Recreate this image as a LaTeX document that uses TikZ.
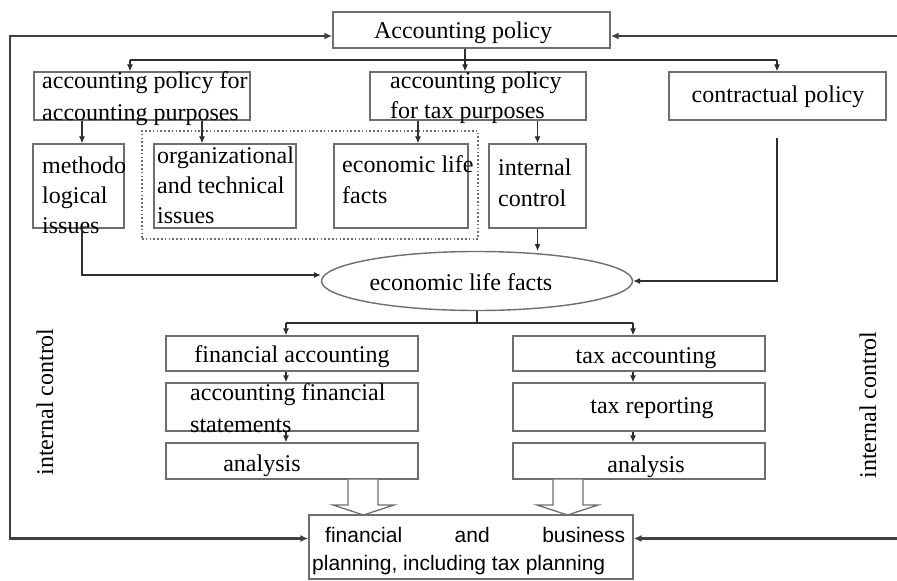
\documentclass[tikz,border=0pt]{standalone}
\usepackage{fontspec}
\setmainfont{Liberation Serif}
\newfontfamily\sansf{Liberation Sans}
\usetikzlibrary{arrows.meta,shapes.geometric}
\definecolor{boxc}{HTML}{6E6E6E}
\definecolor{linec}{HTML}{2E2E2E}
\definecolor{loopc}{HTML}{404040}
\tikzset{
  box/.style={draw=boxc, line width=1.4pt, inner sep=0pt, fill=none},
  txt/.style={inner sep=0pt, yshift=-2.5pt, font=\fontsize{24}{31}\selectfont, align=left},
  conn/.style={draw=linec, line width=1.1pt},
  arr/.style={conn, -{Latex[length=7pt,width=6pt]}},
  looparr/.style={draw=loopc, line width=2.6pt, {Latex[length=8pt,width=7pt]}-{Latex[length=8pt,width=7pt]}},
  blockarr/.style={draw=boxc, line width=1.3pt, fill=white, line join=miter}
}
\begin{document}
\begin{tikzpicture}[x=1pt,y=-1pt]
\useasboundingbox[fill=white] (0,0) rectangle (897,581);

% boxes
\node[box, minimum width=277pt, minimum height=36pt] (ap) at (471.5,30) {};
\node[box, minimum width=216pt, minimum height=48pt] (app) at (142,96) {};
\node[box, minimum width=216pt, minimum height=48pt] (atp) at (478,96) {};
\node[box, minimum width=217pt, minimum height=48pt] (cp) at (777.5,96) {};
\node[draw=boxc, line width=1.6pt, dash pattern=on 1.6pt off 2.2pt, inner sep=0pt, minimum width=336pt, minimum height=108pt] (dot) at (310,185) {};
\node[box, minimum width=91pt, minimum height=84pt] (meth) at (78.5,186) {};
\node[box, minimum width=142pt, minimum height=84pt] (org) at (225,186) {};
\node[box, minimum width=134pt, minimum height=84pt] (elf) at (401,186) {};
\node[box, minimum width=97pt, minimum height=84pt] (ic) at (537.5,186) {};
\node[box, ellipse, minimum width=311pt, minimum height=59pt] (ell) at (477,281) {};
\node[box, minimum width=252pt, minimum height=35pt] (fa) at (292,353.5) {};
\node[box, minimum width=252pt, minimum height=48pt] (afs) at (292,407) {};
\node[box, minimum width=252pt, minimum height=36pt] (an1) at (292,461) {};
\node[box, minimum width=252pt, minimum height=35pt] (ta) at (639,353.5) {};
\node[box, minimum width=252pt, minimum height=48pt] (tr) at (639,407) {};
\node[box, minimum width=252pt, minimum height=36pt] (an2) at (639,461) {};
\node[box, minimum width=324pt, minimum height=64pt] (plan) at (471,547) {};

% texts
\node[txt] (ap-t) at (463,30) {Accounting policy};
\node[txt, anchor=west, font=\fontsize{24}{32}\selectfont] (app-t) at (42,96) {accounting policy for\\accounting purposes};
\node[txt, anchor=west, font=\fontsize{24}{30}\selectfont] (atp-t) at (390,95) {accounting policy\\for tax purposes};
\node[txt] (cp-t) at (778,94) {contractual policy};
\node[txt, anchor=west, font=\fontsize{24}{30}\selectfont] (meth-t) at (42,193) {methodo\\logical\\issues};
\node[txt, anchor=west, font=\fontsize{24}{30}\selectfont] (org-t) at (157,183) {organizational\\and technical\\issues};
\node[txt, anchor=west] (elf-t) at (342,177) {economic life\\facts};
\node[txt, anchor=west] (ic-t) at (498,180) {internal\\control};
\node[txt, yshift=2pt] (ell-t) at (461,282) {economic life facts};
\node[txt] (fa-t) at (292,354) {financial accounting};
\node[txt, anchor=west, font=\fontsize{24}{32}\selectfont] (afs-t) at (190,406) {accounting financial\\statements};
\node[txt] (an1-t) at (262,463) {analysis};
\node[txt] (ta-t) at (646,356) {tax accounting};
\node[txt] (tr-t) at (652,406) {tax reporting};
\node[txt] (an2-t) at (646,464) {analysis};
\node[txt, anchor=west, font=\sansf\fontsize{21}{28}\selectfont] (plan-t) at (312,549)
  {\hspace*{13pt}\makebox[300pt][s]{financial\hfill and\hfill business}\\planning, including tax planning};
\node[inner sep=0pt, font=\fontsize{24}{31}\selectfont, rotate=90] (icl) at (45,402) {internal control};
\node[inner sep=0pt, font=\fontsize{24}{31}\selectfont, rotate=90] (icr) at (868,405) {internal control};

% distribution from Accounting policy
\coordinate (h1) at (130,60);
\coordinate (h2) at (777,60);
\coordinate (j1) at (465,60);
\draw[conn] (ap.south -| j1) -- (j1);
\draw[conn] (h1) -- (h2);
\draw[arr] (h1) -- (h1 |- app.north);
\draw[arr] (j1) -- (j1 |- atp.north);
\draw[arr] (h2) -- (h2 |- cp.north);

% second row
\draw[arr] (app.south -| 82,0) -- (meth.north -| 82,0);
\draw[arr] (app.south -| 202,0) -- (org.north -| 202,0);
\draw[arr] (atp.south -| 418,0) -- (elf.north -| 418,0);
\draw[arr] (ic.north |- atp.south) -- (ic.north);

% to ellipse
\draw[arr] (ic.south) -- (ic.south |- 0,251);
\draw[arr] (meth.south -| 82,0) -- (82,275) -- (ell.west |- 0,275);
\coordinate (c0) at (777,138);
\draw[arr] (c0) |- (ell.east);

% from ellipse
\coordinate (fL) at (286,323);
\coordinate (fR) at (633,323);
\draw[conn] (ell.south) -- (ell.south |- fL);
\draw[conn] (fL) -- (fR);
\draw[arr] (fL) -- (fL |- fa.north);
\draw[arr] (fR) -- (fR |- ta.north);
\draw[arr] (fa.south -| fL) -- (afs.north -| fL);
\draw[arr] (afs.south -| fL) -- (an1.north -| fL);
\draw[arr] (ta.south -| fR) -- (tr.north -| fR);
\draw[arr] (tr.south -| fR) -- (an2.north -| fR);

% block arrows
\draw[blockarr] (348,479.7) -- (348,505) -- (333,505) -- (363.5,515) -- (394,505) -- (378,505) -- (378,479.7);
\draw[blockarr] (553,479.7) -- (553,505) -- (537,505) -- (567.5,515) -- (598,505) -- (583,505) -- (583,479.7);

% loops
\draw[looparr] (ap.west |- 0,36) -- (10,36) -- (10,538.5) -- (plan.west |- 0,538.5);
\draw[looparr] (ap.east |- 0,36) -- (900,36) -- (900,538.5) -- (plan.east |- 0,538.5);
\end{tikzpicture}
\end{document}
